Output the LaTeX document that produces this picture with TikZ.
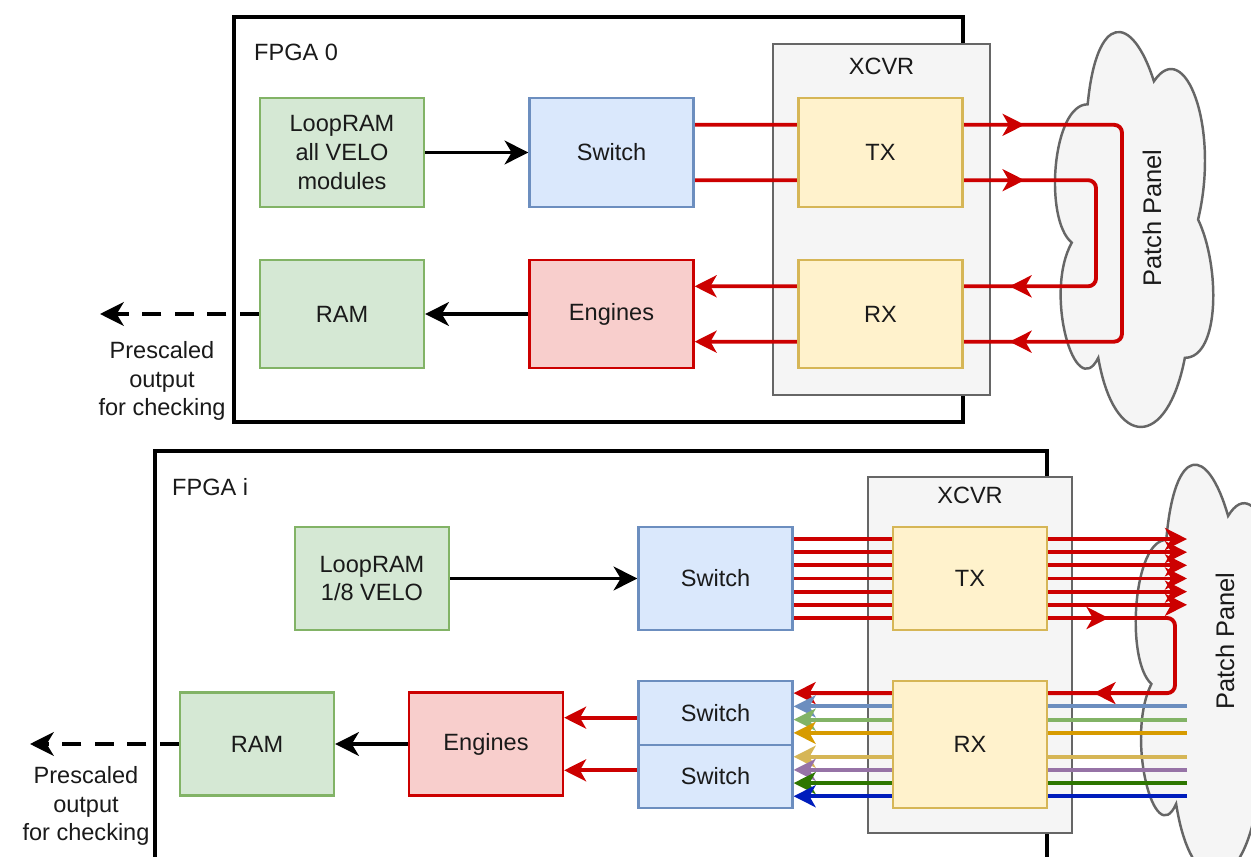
\documentclass[tikz,border=0pt]{standalone}
\usepackage{fontspec}
\setmainfont{Liberation Sans}
\usetikzlibrary{arrows.meta,calc,decorations.markings}
\definecolor{gfill}{HTML}{D5E8D4}
\definecolor{gline}{HTML}{82B366}
\definecolor{bfill}{HTML}{DAE8FC}
\definecolor{bline}{HTML}{6C8EBF}
\definecolor{yfill}{HTML}{FFF2CC}
\definecolor{yline}{HTML}{D6B656}
\definecolor{rfill}{HTML}{F8CECC}
\definecolor{rline}{HTML}{CC0000}
\definecolor{xfill}{HTML}{F5F5F5}
\definecolor{xline}{HTML}{666666}
\definecolor{txt}{HTML}{1A1A1A}
\definecolor{ca}{HTML}{6C8EBF}
\definecolor{cb}{HTML}{82B366}
\definecolor{cc}{HTML}{D79B00}
\definecolor{cd}{HTML}{D6B656}
\definecolor{ce}{HTML}{9673A6}
\definecolor{cf}{HTML}{2D7600}
\definecolor{cg}{HTML}{001DBC}
\pgfdeclarelayer{back}\pgfdeclarelayer{mid}\pgfsetlayers{back,mid,main}
\tikzset{
  lbl/.style={font=\fontsize{13.4}{16.4}\selectfont, text=txt},
  blk/.style={draw, line width=1.3pt, align=center, lbl, inner sep=0pt},
  gbox/.style={blk, fill=gfill, draw=gline},
  bbx/.style={blk, fill=bfill, draw=bline},
  ybox/.style={blk, fill=yfill, draw=yline},
  rbox/.style={blk, fill=rfill, draw=rline},
  tsize/.style={minimum width=3.28cm, minimum height=2.17cm},
  bsize/.style={minimum width=3.08cm, minimum height=2.06cm},
  fpgabox/.style={draw=black, line width=1.9pt, fill=white, inner sep=0pt},
  xcvrbox/.style={draw=xline, fill=xfill, line width=1.6pt, inner sep=0pt},
  cloudst/.style={draw=xline, fill=xfill, line width=1.4pt},
  rtipx/.tip={Stealth[length=12.5pt,width=12.5pt,inset=3.5pt]},
  btipx/.tip={Stealth[length=13.5pt,width=13.5pt,inset=4pt]},
  rw/.style={draw=rline, line width=2.2pt},
  rarr/.style={rw, -rtipx},
  cw/.style={draw=#1, line width=2.2pt, -rtipx},
  barr/.style={draw=black, line width=2pt, -btipx},
  darr/.style={draw=black, line width=2.2pt, dash pattern=on 11pt off 7.5pt, -btipx},
  loopmarks/.style 2 args={postaction={decorate}, decoration={markings,
     mark=at position #1 with {\arrow[rline]{rtipx}},
     mark=at position #2 with {\arrow[rline]{rtipx}}}},
  pp/.style={font=\fontsize{14.5}{17}\selectfont, text=txt},
}
\newcommand{\drawcloud}[4]{%
  \begin{scope}[shift={(#1,#2)}, x=#3, y=#4]
    \draw[cloudst] (0.25,0.25) .. controls (0.05,0.25) and (0,0.5) .. (0.16,0.55)
      .. controls (0,0.66) and (0.18,0.9) .. (0.31,0.8)
      .. controls (0.4,1) and (0.7,1) .. (0.8,0.8)
      .. controls (1,0.8) and (1,0.6) .. (0.875,0.5)
      .. controls (1,0.3) and (0.8,0.1) .. (0.625,0.2)
      .. controls (0.5,0.05) and (0.3,0.05) .. (0.25,0.25) -- cycle;
  \end{scope}}
\begin{document}
\begin{tikzpicture}[x=0.02cm,y=-0.02cm]
\useasboundingbox (0,0) rectangle (1251,857);
\clip (0,0) rectangle (1251,857);

% ---------- background containers ----------
\begin{pgfonlayer}{back}
  \node[fpgabox, minimum width=14.58cm, minimum height=8.1cm] (fpga0) at (598.5,219.5) {};
  \node[xcvrbox, minimum width=4.34cm, minimum height=7.02cm] (xcvr0) at (881.5,219.5) {};
  \node[fpgabox, minimum width=17.84cm, minimum height=8.56cm] (fpgai) at (601,665) {};
  \node[xcvrbox, minimum width=4.08cm, minimum height=7.12cm] (xcvr1) at (970,655) {};
  \drawcloud{1043.5}{-10.9}{3.534cm}{-9.22cm}
  \drawcloud{1125}{420}{3.3cm}{-9.6cm}
\end{pgfonlayer}

\node[lbl, anchor=west] (fpga0lbl) at (248,52) {FPGA 0};
\node[lbl] (xcvr0lbl) at (881.5,66) {XCVR};
\node[lbl, anchor=west] (fpgailbl) at (166,487) {FPGA i};
\node[lbl] (xcvr1lbl) at (970,495) {XCVR};
\node[pp, rotate=90] (pp0) at (1152,218) {Patch Panel};
\node[pp, rotate=90] (pp1) at (1225,641) {Patch Panel};

% ---------- top: FPGA 0 ----------
\node[gbox, tsize] (lr0) at (342,152.5) {LoopRAM\\all VELO\\modules};
\node[bbx, tsize] (sw0) at (611.5,152.5) {Switch};
\node[ybox, tsize] (tx0) at (880.5,152.5) {TX};
\node[gbox, tsize] (ram0) at (342,314) {RAM};
\node[rbox, tsize] (eng0) at (611.5,314) {Engines};
\node[ybox, tsize] (rx0) at (880.5,314) {RX};
\node[lbl, align=center] (pre0) at (162,381) {Prescaled\\output\\for checking};

\coordinate (a1) at ($(sw0.north east)!0.25!(sw0.south east)$);
\coordinate (a2) at ($(sw0.north east)!0.75!(sw0.south east)$);
\coordinate (e1) at ($(eng0.north east)!0.25!(eng0.south east)$);
\coordinate (e2) at ($(eng0.north east)!0.75!(eng0.south east)$);
\coordinate (vo) at (1122,230);
\coordinate (vi) at (1096,230);
\coordinate (out0) at (100,314);

% ---------- bottom: FPGA i ----------
\node[gbox, bsize] (lr1) at (372,578.5) {LoopRAM\\1/8 VELO};
\node[bbx, bsize] (sw1) at (715.5,578.5) {Switch};
\node[ybox, bsize] (tx1) at (970,578.5) {TX};
\node[bbx, minimum width=3.08cm, minimum height=1.28cm] (sa) at (715.5,713) {Switch};
\node[bbx, minimum width=3.08cm, minimum height=1.27cm] (sb) at (715.5,776.5) {Switch};
\node[ybox, minimum width=3.08cm, minimum height=2.54cm] (rx1) at (970,744.5) {RX};
\node[rbox, bsize] (eng1) at (486,744) {Engines};
\node[gbox, bsize] (ram1) at (257,744) {RAM};
\node[lbl, align=center] (pre1) at (86,806) {Prescaled\\output\\for checking};

\foreach \i in {1,...,7}{
  \coordinate (r\i) at ($(sw1.north east)!\i/8!(sw1.south east)$);
}
\foreach \i in {1,...,4}{
  \coordinate (sa\i) at ($(sa.north east)!\i/5!(sa.south east)$);
  \coordinate (sb\i) at ($(sb.north east)!\i/5!(sb.south east)$);
}
\coordinate (f1) at ($(eng1.north east)!0.25!(eng1.south east)$);
\coordinate (f2) at ($(eng1.north east)!0.75!(eng1.south east)$);
\coordinate (pend) at (1187,650);
\coordinate (v2) at (1175,650);
\coordinate (out1) at (30,744);

% ---------- connectors ----------
\begin{pgfonlayer}{mid}
  % top
  \draw[barr] (lr0) -- (sw0);
  \draw[barr] (eng0) -- (ram0);
  \draw[darr] (ram0.west) -- (out0);
  \draw[rarr, rounded corners=4.5pt, loopmarks={6.6cm}{-6.3cm}] (a1) -| (vo) |- (e2);
  \draw[rarr, rounded corners=4.5pt, loopmarks={6.6cm}{-6.3cm}] (a2) -| (vi) |- (e1);
  % bottom
  \draw[barr] (lr1) -- (sw1);
  \draw[barr] (eng1) -- (ram1);
  \draw[darr] (ram1.west) -- (out1);
  \foreach \i in {1,...,6}{
    \draw[rarr] (r\i) -- (r\i -| pend);
  }
  \draw[rarr, rounded corners=4.5pt, loopmarks={6.3cm}{-6.0cm}] (r7) -| (v2) |- (sa1);
  \draw[cw=ca] (pend |- sa2) -- (sa2);
  \draw[cw=cb] (pend |- sa3) -- (sa3);
  \draw[cw=cc] (pend |- sa4) -- (sa4);
  \draw[cw=cd] (pend |- sb1) -- (sb1);
  \draw[cw=ce] (pend |- sb2) -- (sb2);
  \draw[cw=cf] (pend |- sb3) -- (sb3);
  \draw[cw=cg] (pend |- sb4) -- (sb4);
  \draw[rarr] (sa.west |- f1) -- (f1);
  \draw[rarr] (sb.west |- f2) -- (f2);
\end{pgfonlayer}
\end{tikzpicture}
\end{document}
